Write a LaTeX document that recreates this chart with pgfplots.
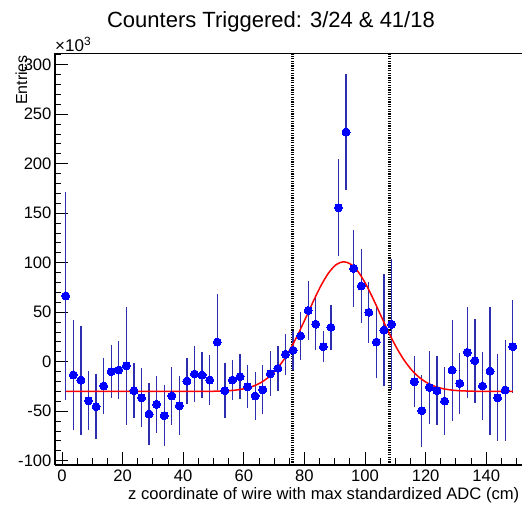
\documentclass[border=0pt]{standalone}
\usepackage{fontspec}
\setmainfont{Liberation Sans}
\usepackage{pgfplots}
\pgfplotsset{compat=1.18}
\usepackage{pgfplotstable}

\definecolor{markblue}{RGB}{0,0,255}
\definecolor{barblue}{RGB}{45,45,175}
\definecolor{fitred}{RGB}{255,0,0}

% entries per wire bin (in thousands) with their errors
\pgfplotstableread{
z n err
1.25 66.4 105
3.75 -13.4 56
6.25 -18.5 55
8.75 -39.4 30
11.25 -45.4 33
13.75 -24.5 28
16.25 -10.1 27
18.75 -8.4 29
21.25 -4.0 59.5
23.75 -29.3 28
26.25 -36.4 30
28.75 -52.8 31
31.25 -43.0 29
33.75 -54.5 31
36.25 -34.6 29
38.75 -44.4 30
41.25 -19.5 23
43.75 -12.4 28
46.25 -13.4 23
48.75 -18.5 25
51.25 19.9 48
53.75 -29.3 28
56.25 -18.5 20
58.75 -15.1 22.5
61.25 -25.2 22
63.75 -34.6 24
66.25 -28.3 25
68.75 -12.1 23
71.25 -6.7 23
73.75 7.5 21
76.25 11.5 20
78.75 26.0 24.5
81.25 51.8 30
83.75 38.0 26
86.25 15.2 15.5
88.75 34.7 23
91.25 155.6 49
93.75 232.0 59
96.25 94.3 39
98.75 76.5 37
101.25 49.9 31
103.75 19.9 36
106.25 32.0 57
108.75 37.8 66
116.25 -20.2 26
118.75 -49.5 36.5
121.25 -25.9 37
123.75 -29.3 35
126.25 -39.7 34
128.75 -8.4 51
131.25 -21.8 31
133.75 9.5 46
136.25 1.0 42.5
138.75 -24.5 34
141.25 -9.4 65
143.75 -36.4 44
146.25 -28.6 51
148.75 15.2 47
}\datatable

% gaussian + constant fit, tabulated
\pgfplotstableread{
z f
1.25 -30.0
40.5 -30.0
45.5 -29.96
50.5 -29.80
55.5 -29.16
58 -28.39
60.5 -27.05
63 -24.83
65.5 -21.33
68 -16.11
70.5 -8.73
73 1.15
75.5 13.62
78 28.40
80.5 44.75
83 61.48
85.5 77.04
88 89.75
90.5 98.09
93 101.0
95.5 98.09
98 89.75
100.5 77.04
103 61.48
105.5 44.75
108 28.40
110.5 13.62
113 1.15
115.5 -8.73
118 -16.11
120.5 -21.33
123 -24.83
125.5 -27.05
128 -28.39
130.5 -29.16
135.5 -29.80
140.5 -29.96
148.75 -30.0
}\fittable

\begin{document}
\begin{tikzpicture}
\useasboundingbox (-55pt,-40pt) rectangle (467pt,465pt);
\begin{axis}[
  at={(0pt,0pt)}, anchor=south west,
  scale only axis, width=467pt, height=411.7pt,
  xmin=-2.3, xmax=151.8, ymin=-104.3, ymax=311.5,
  axis lines=left,
  axis line style={-, line width=1.1pt, black},
  tick align=inside,
  xtick={0,20,...,140},
  minor xtick={0,5,...,150},
  ytick={-100,-50,...,300},
  minor ytick={-100,-90,...,310},
  major tick length=13pt,
  minor tick length=6.5pt,
  every tick/.style={black, line width=0.9pt},
  tick label style={font=\fontsize{16.6}{18}\selectfont},
  /pgf/number format/assume math mode=true,
  xticklabel style={yshift=-1.5pt},
  xlabel={z coordinate of wire with max standardized ADC (cm)},
  xlabel style={at={(axis description cs:0.9946,-0.085)}, anchor=base east,
    inner sep=0pt, font=\fontsize{16.6}{18}\selectfont},
  ylabel={Entries},
  ylabel style={at={(axis description cs:-0.0717,0.9959)}, anchor=east,
    inner sep=0pt, font=\fontsize{16}{18}\selectfont},
  clip=false,
]
% frame top edge
\draw[line width=1.1pt, black] (rel axis cs:0,1) -- (rel axis cs:1,1);

% selection window
\addplot[black, line width=2.6pt, dash pattern=on 1.2pt off 1.2pt]
  coordinates {(76,-104.3) (76,311.5)};
\addplot[black, line width=2.6pt, dash pattern=on 1.2pt off 1.2pt]
  coordinates {(108,-104.3) (108,311.5)};

% data with errors
\addplot[only marks, mark=*, mark size=4pt,
  mark options={fill=markblue, draw=markblue, line width=0pt},
  error bars/.cd, y dir=both, y explicit,
  error bar style={line width=1.3pt, barblue}, error mark=none]
  table[x=z, y=n, y error=err] {\datatable};

% fit
\addplot[fitred, line width=1.5pt, smooth, no marks] table[x=z, y=f] {\fittable};

\node[anchor=south west, inner sep=0pt, font=\fontsize{17}{19}\selectfont]
  at (axis description cs:0,1.004) {×10\textsuperscript{3}};
\node[anchor=base, inner sep=0pt, font=\fontsize{22}{26}\selectfont]
  at (axis description cs:0.4625,1.0615) {Counters Triggered: 3/24 \& 41/18};
\end{axis}
\end{tikzpicture}
\end{document}
